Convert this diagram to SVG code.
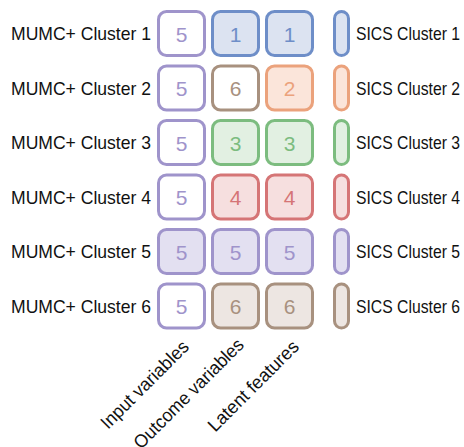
<svg xmlns="http://www.w3.org/2000/svg" width="464" height="447" viewBox="0 0 464 447">
<style>
.lbl{font-family:"Liberation Sans",Arial,sans-serif;font-size:18.5px;fill:#111}
.num{font-family:"Liberation Sans",Arial,sans-serif;font-size:21px;text-anchor:middle}
.box{stroke-width:3}
.pu{stroke:#9f94cb}.puf{fill:#e3e0f1}.put{fill:#9f94cb}
.bl{stroke:#6e8ec8}.blf{fill:#dce3f1}.blt{fill:#6e8ec8}
.br{stroke:#a8917f}.brf{fill:#ede6e2}.brt{fill:#a8917f}
.or{stroke:#eba27c}.orf{fill:#fbe5da}.ort{fill:#eba27c}
.gr{stroke:#7cbc7f}.grf{fill:#e2f0e2}.grt{fill:#7cbc7f}
.rd{stroke:#d57576}.rdf{fill:#f6dfdf}.rdt{fill:#d57576}
.wh{fill:#fff}
</style>
<rect width="464" height="447" fill="#fff"/>
<g id="labels-left" class="lbl">
<text x="11" y="40" textLength="140" lengthAdjust="spacingAndGlyphs">MUMC+ Cluster 1</text>
<text x="11" y="94.5" textLength="140" lengthAdjust="spacingAndGlyphs">MUMC+ Cluster 2</text>
<text x="11" y="149" textLength="140" lengthAdjust="spacingAndGlyphs">MUMC+ Cluster 3</text>
<text x="11" y="203.5" textLength="140" lengthAdjust="spacingAndGlyphs">MUMC+ Cluster 4</text>
<text x="11" y="258" textLength="140" lengthAdjust="spacingAndGlyphs">MUMC+ Cluster 5</text>
<text x="11" y="312.5" textLength="140" lengthAdjust="spacingAndGlyphs">MUMC+ Cluster 6</text>
</g>
<g id="row1">
<rect class="box pu wh" x="158.5" y="11.5" width="46" height="44" rx="8"/><text class="num put" x="181.5" y="41.5">5</text>
<rect class="box bl blf" x="212.5" y="11.5" width="46" height="44" rx="8"/><text class="num blt" x="235.5" y="41.5">1</text>
<rect class="box bl blf" x="266.5" y="11.5" width="46" height="44" rx="8"/><text class="num blt" x="289.5" y="41.5">1</text>
<rect class="box bl blf" x="334.5" y="11.5" width="14" height="44" rx="7"/>
</g>
<g id="row2">
<rect class="box pu wh" x="158.5" y="66" width="46" height="44" rx="8"/><text class="num put" x="181.5" y="96">5</text>
<rect class="box br wh" x="212.5" y="66" width="46" height="44" rx="8"/><text class="num brt" x="235.5" y="96">6</text>
<rect class="box or orf" x="266.5" y="66" width="46" height="44" rx="8"/><text class="num ort" x="289.5" y="96">2</text>
<rect class="box or orf" x="334.5" y="66" width="14" height="44" rx="7"/>
</g>
<g id="row3">
<rect class="box pu wh" x="158.5" y="120.5" width="46" height="44" rx="8"/><text class="num put" x="181.5" y="150.5">5</text>
<rect class="box gr grf" x="212.5" y="120.5" width="46" height="44" rx="8"/><text class="num grt" x="235.5" y="150.5">3</text>
<rect class="box gr grf" x="266.5" y="120.5" width="46" height="44" rx="8"/><text class="num grt" x="289.5" y="150.5">3</text>
<rect class="box gr grf" x="334.5" y="120.5" width="14" height="44" rx="7"/>
</g>
<g id="row4">
<rect class="box pu wh" x="158.5" y="175" width="46" height="44" rx="8"/><text class="num put" x="181.5" y="205">5</text>
<rect class="box rd rdf" x="212.5" y="175" width="46" height="44" rx="8"/><text class="num rdt" x="235.5" y="205">4</text>
<rect class="box rd rdf" x="266.5" y="175" width="46" height="44" rx="8"/><text class="num rdt" x="289.5" y="205">4</text>
<rect class="box rd rdf" x="334.5" y="175" width="14" height="44" rx="7"/>
</g>
<g id="row5">
<rect class="box pu puf" x="158.5" y="229.5" width="46" height="44" rx="8"/><text class="num put" x="181.5" y="259.5">5</text>
<rect class="box pu puf" x="212.5" y="229.5" width="46" height="44" rx="8"/><text class="num put" x="235.5" y="259.5">5</text>
<rect class="box pu puf" x="266.5" y="229.5" width="46" height="44" rx="8"/><text class="num put" x="289.5" y="259.5">5</text>
<rect class="box pu puf" x="334.5" y="229.5" width="14" height="44" rx="7"/>
</g>
<g id="row6">
<rect class="box pu wh" x="158.5" y="284" width="46" height="44" rx="8"/><text class="num put" x="181.5" y="314">5</text>
<rect class="box br brf" x="212.5" y="284" width="46" height="44" rx="8"/><text class="num brt" x="235.5" y="314">6</text>
<rect class="box br brf" x="266.5" y="284" width="46" height="44" rx="8"/><text class="num brt" x="289.5" y="314">6</text>
<rect class="box br brf" x="334.5" y="284" width="14" height="44" rx="7"/>
</g>
<g id="labels-right" class="lbl">
<text x="356" y="40" textLength="104" lengthAdjust="spacingAndGlyphs">SICS Cluster 1</text>
<text x="356" y="94.5" textLength="104" lengthAdjust="spacingAndGlyphs">SICS Cluster 2</text>
<text x="356" y="149" textLength="104" lengthAdjust="spacingAndGlyphs">SICS Cluster 3</text>
<text x="356" y="203.5" textLength="104" lengthAdjust="spacingAndGlyphs">SICS Cluster 4</text>
<text x="356" y="258" textLength="104" lengthAdjust="spacingAndGlyphs">SICS Cluster 5</text>
<text x="356" y="312.5" textLength="104" lengthAdjust="spacingAndGlyphs">SICS Cluster 6</text>
</g>
<g id="labels-bottom" class="lbl" text-anchor="end">
<text transform="translate(190,348) rotate(-45)" textLength="116" lengthAdjust="spacingAndGlyphs">Input variables</text>
<text transform="translate(245,346) rotate(-45)" textLength="147" lengthAdjust="spacingAndGlyphs">Outcome variables</text>
<text transform="translate(300,348) rotate(-45)" textLength="120" lengthAdjust="spacingAndGlyphs">Latent features</text>
</g>
</svg>
